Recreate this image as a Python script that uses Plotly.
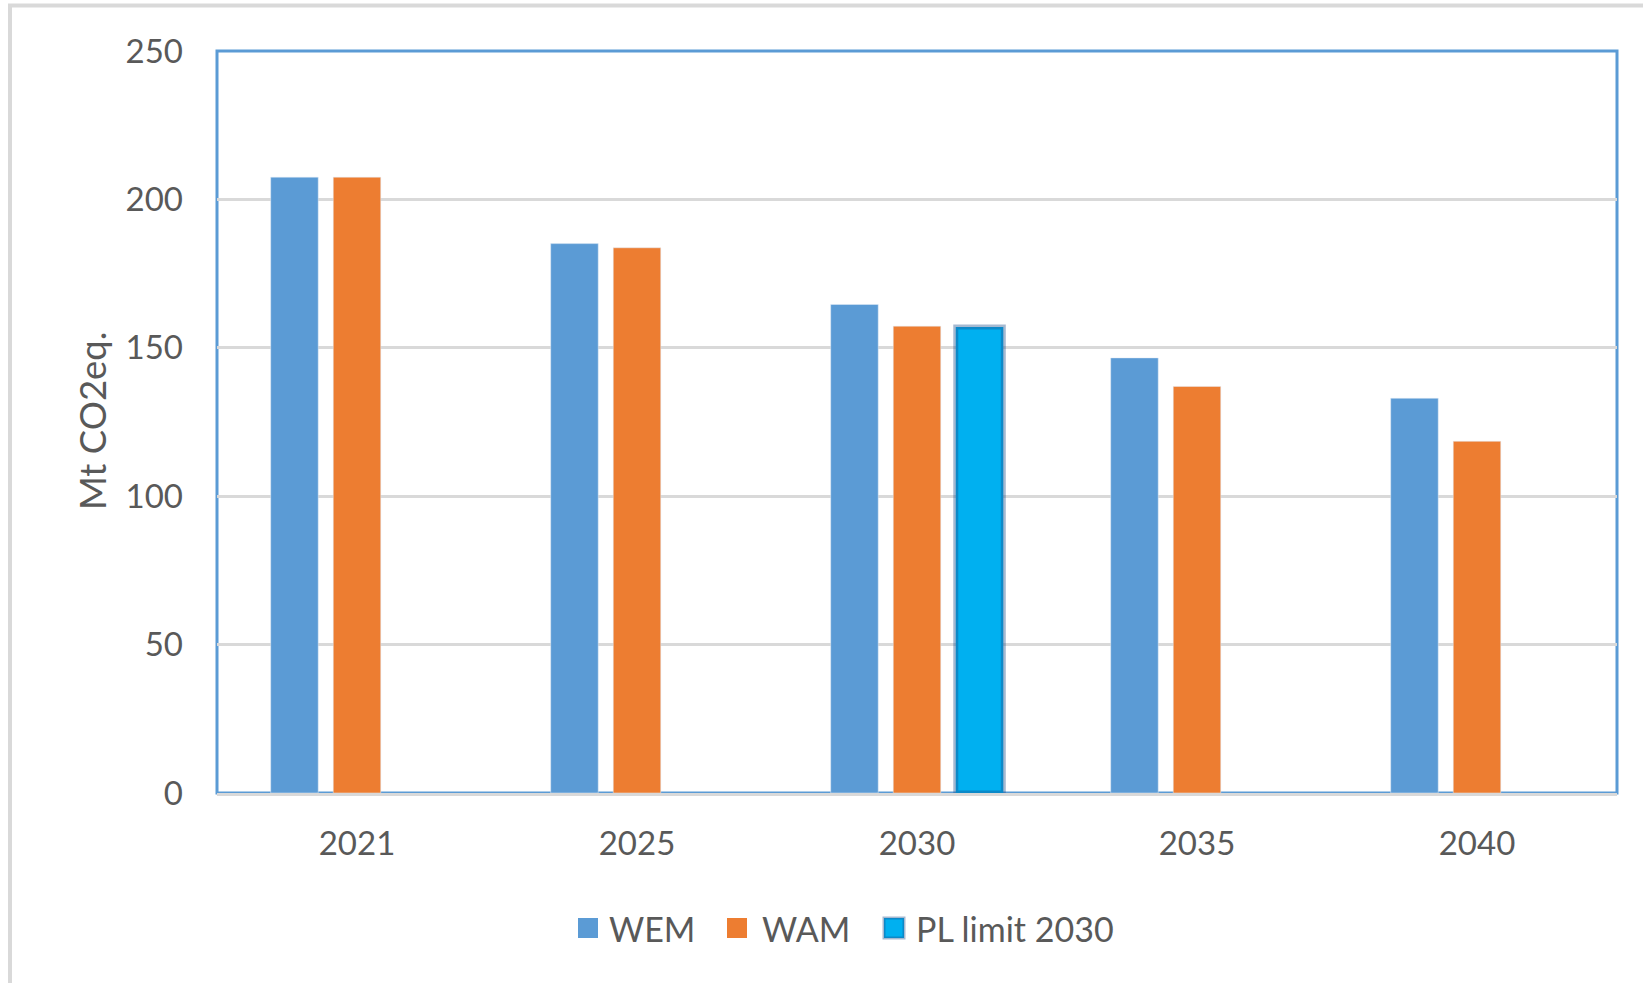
import plotly.graph_objects as go

# Emission projections, Mt CO2eq.
years = ["2021", "2025", "2030", "2035", "2040"]
wem = [207.5, 185.1, 164.6, 146.6, 133.0]
wam = [207.5, 183.7, 157.3, 137.0, 118.5]
pl_years = ["2030"]
pl_limit = [157.0]

series_names = ["WEM", "WAM", "PL limit 2030"]
series_colors = ["#5B9BD5", "#ED7D31", "#00B0F0"]

y_ticks = [0, 50, 100, 150, 200, 250]

FONT = "Lato"
TEXT_GREY = "#595959"
GRID_GREY = "#D9D9D9"
FRAME_BLUE = "#5B9BD5"
HALO = "rgba(30,80,140,0.40)"

W, H = 1643, 983
L, R, T, B = 217, 26, 51, 190
plot_w = W - L - R
plot_h = H - T - B


def px_x(px):
    return (px - L) / plot_w


def px_y(py):
    return (H - B - py) / plot_h


fig = go.Figure()
fig.add_trace(go.Bar(name=series_names[0], x=years, y=wem,
                     marker=dict(color=series_colors[0])))
fig.add_trace(go.Bar(name=series_names[1], x=years, y=wam,
                     marker=dict(color=series_colors[1])))
fig.add_trace(go.Bar(name=series_names[2], x=pl_years, y=pl_limit,
                     marker=dict(color=series_colors[2],
                                 line=dict(color=HALO, width=5))))

# Legend row below the axis: coloured square followed by its label
legend_square_left = [578, 727, 884]
legend_text_left = [607, 760, 914]
legend_cy = 928
sq = 20
shapes = [
    # plot area frame
    dict(type="rect", xref="paper", yref="paper", x0=0, x1=1, y0=0, y1=1,
         line=dict(color=FRAME_BLUE, width=3), layer="below"),
    # chart area frame
    dict(type="rect", xref="paper", yref="paper",
         x0=px_x(10), x1=px_x(W + 20), y0=px_y(5.5), y1=px_y(H + 20),
         line=dict(color=GRID_GREY, width=4), layer="below"),
]
annotations = [
    dict(text="Mt CO2eq.", xref="paper", yref="paper",
         x=px_x(92), y=px_y(421), textangle=-90, showarrow=False,
         xanchor="center", yanchor="middle",
         font=dict(family=FONT, size=36.5, color=TEXT_GREY)),
]
for i, name in enumerate(series_names):
    x0 = legend_square_left[i]
    line = dict(width=0)
    if i == 2:
        line = dict(color=HALO, width=3)
    shapes.append(dict(
        type="rect", xref="paper", yref="paper",
        x0=px_x(x0), x1=px_x(x0 + sq),
        y0=px_y(legend_cy + sq / 2), y1=px_y(legend_cy - sq / 2),
        fillcolor=series_colors[i], line=line,
    ))
    annotations.append(dict(
        text=name, xref="paper", yref="paper",
        x=px_x(legend_text_left[i]), y=px_y(legend_cy),
        xanchor="left", yanchor="middle", showarrow=False,
        font=dict(family=FONT, size=34, color=TEXT_GREY),
    ))

fig.update_layout(
    width=W, height=H,
    margin=dict(l=L, r=R, t=T, b=B),
    paper_bgcolor="white", plot_bgcolor="white",
    font=dict(family=FONT, size=33, color=TEXT_GREY),
    barmode="group", bargap=0.33, bargroupgap=0.24,
    showlegend=False,
    xaxis=dict(
        type="category", showgrid=False,
        showline=True, linecolor=GRID_GREY, linewidth=3,
        ticks="", ticklabelstandoff=19,
        tickfont=dict(family=FONT, size=33, color=TEXT_GREY),
    ),
    yaxis=dict(
        range=[0, 250], tickvals=y_ticks,
        showgrid=True, gridcolor=GRID_GREY, gridwidth=2.5,
        zeroline=False, showline=False, ticks="",
        ticklabelstandoff=33,
        tickfont=dict(family=FONT, size=33, color=TEXT_GREY),
    ),
    shapes=shapes,
    annotations=annotations,
)

fig.write_html("out.html")
